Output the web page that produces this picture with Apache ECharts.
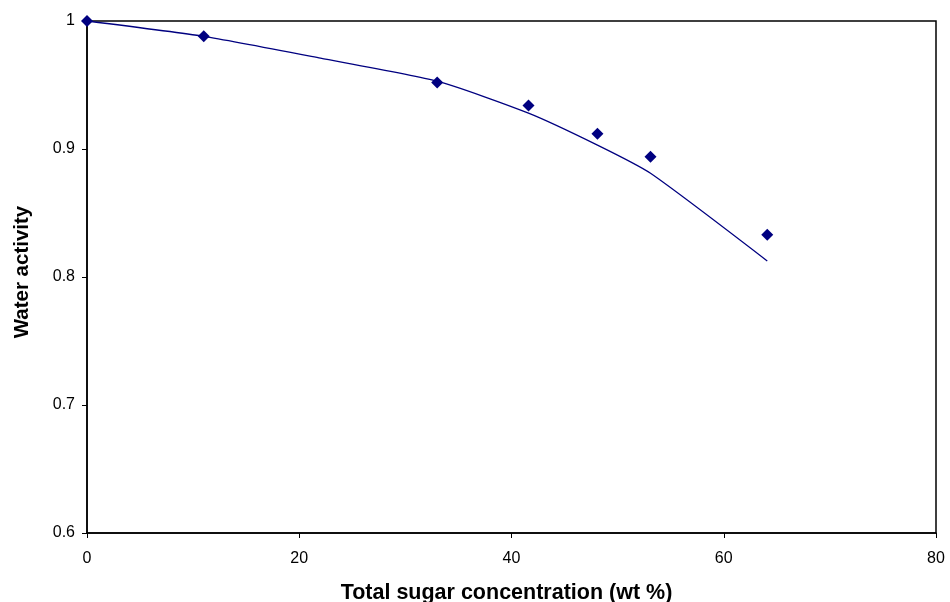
<!DOCTYPE html>
<html><head><meta charset="utf-8">
<script src="https://cdn.jsdelivr.net/npm/echarts@6/dist/echarts.min.js"></script>
<style>html,body{margin:0;padding:0;background:#fff}#c{width:950px;height:602px}</style>
</head><body><div id="c"></div>
<script>
const sugarConc = [0, 11, 33, 41.6, 48.1, 53.1, 64.1];
const waterActivity = [1.0, 0.988, 0.952, 0.934, 0.912, 0.894, 0.833];
const modelConc = [0, 11, 22, 33, 41.6, 48.1, 53.1, 64.1];
const modelAw = [1.0, 0.988, 0.971, 0.953, 0.928, 0.903, 0.881, 0.8125];

const chart = echarts.init(document.getElementById('c'));
const ff = 'Liberation Sans, Arial, sans-serif';
chart.setOption({
  animation: false,
  grid: {left: 87, right: 14, top: 21, bottom: 69, show: true, borderColor: '#000', borderWidth: 1.5,
         outerBoundsMode: 'none', containLabel: false},
  xAxis: {
    type: 'value', min: 0, max: 80, interval: 20,
    name: 'Total sugar concentration (wt %)', nameLocation: 'middle', nameGap: 49,
    nameTextStyle: {fontFamily: ff, fontSize: 21.5, fontWeight: 'bold', color: '#000', padding: [0, 10, 0, 0]},
    axisLine: {lineStyle: {color: '#000', width: 1.5}},
    axisTick: {show: true, inside: false, length: 5, lineStyle: {color: '#000'}},
    axisLabel: {fontFamily: ff, fontSize: 16, color: '#000', margin: 18},
    splitLine: {show: false}
  },
  yAxis: {
    type: 'value', min: 0.6, max: 1, interval: 0.1,
    name: 'Water activity', nameLocation: 'middle', nameGap: 54,
    nameTextStyle: {fontFamily: ff, fontSize: 20.5, fontWeight: 'bold', color: '#000', padding: [0, 0, 0, 10]},
    axisLine: {show: true, lineStyle: {color: '#000', width: 1.5}},
    axisTick: {show: true, inside: false, length: 5, lineStyle: {color: '#000'}},
    axisLabel: {fontFamily: ff, fontSize: 16, color: '#000', margin: 12,
      formatter: v => (Math.round(v*10)/10).toString()},
    splitLine: {show: false}
  },
  series: [
    {type: 'line', data: modelConc.map((x,i)=>[x, modelAw[i]]), showSymbol: false,
     smooth: 0.2, lineStyle: {color: '#000080', width: 1.3}, z: 2},
    {type: 'scatter', data: sugarConc.map((x,i)=>[x, waterActivity[i]]), symbol: 'diamond',
     symbolSize: 12, itemStyle: {color: '#000080', opacity: 1}, z: 3}
  ]
});
</script></body></html>
